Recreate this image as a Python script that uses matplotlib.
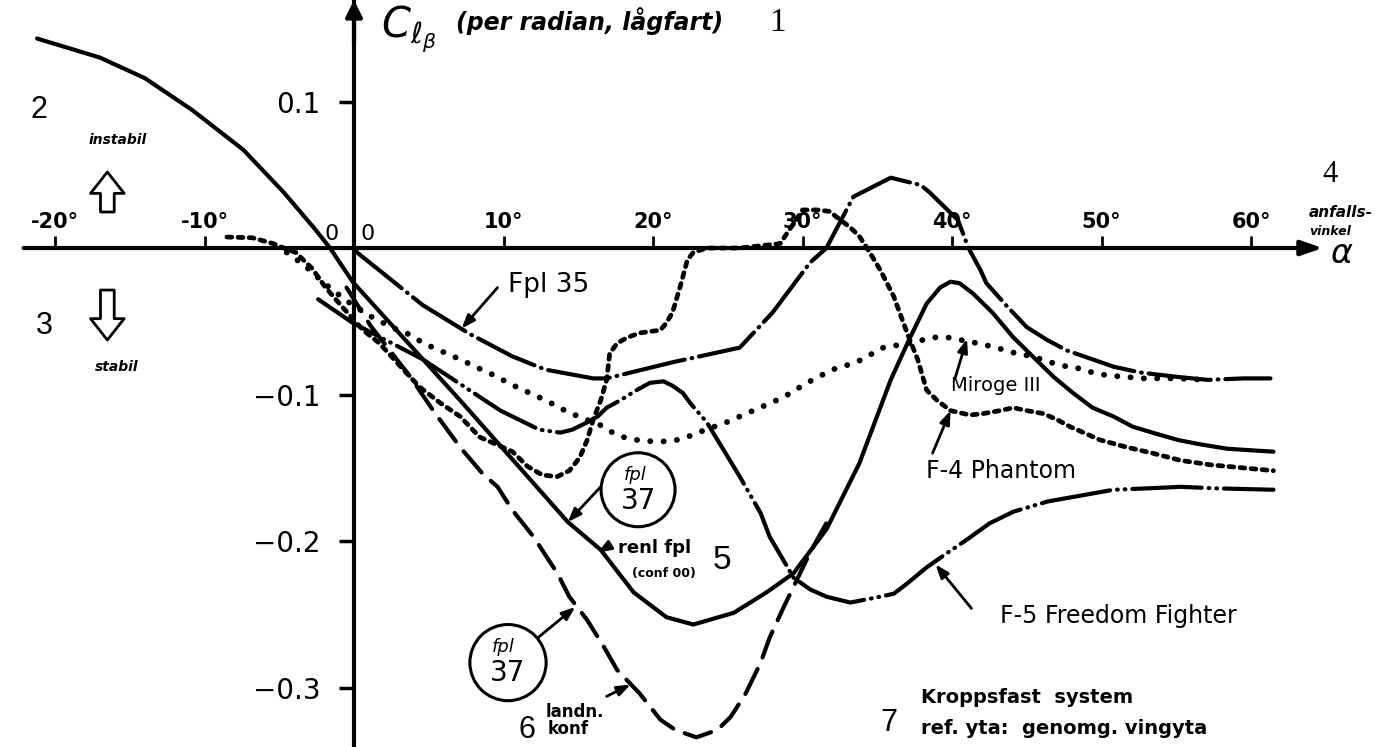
import matplotlib
matplotlib.use("Agg")
import matplotlib.pyplot as plt
from matplotlib.patches import Ellipse

plt.rcParams['lines.scale_dashes'] = False
plt.rcParams['font.family'] = ['DejaVu Sans']

# Cl_beta mot anfallsvinkel, avläst ur diagrammet
# fpl 37 ren konf (heldragen)
a37 = [-21.2, -17.0, -14.0, -10.8, -7.4, -4.7, -2.7, -1.6, -0.1, 7.1, 14.3, 16.5, 18.7, 20.9, 22.7,
       25.4, 27.6, 29.4, 31.6, 33.8, 35.9, 37.2, 38.3, 39.2, 39.9, 40.5, 41.4, 42.7, 44.1, 45.4,
       46.8, 48.1, 49.4, 50.8, 52.1, 53.4, 55.1, 56.6, 58.4, 59.9, 61.5]
c37 = [0.143, 0.130, 0.116, 0.094, 0.067, 0.038, 0.014, 0.0, -0.023, -0.104, -0.187, -0.206, -0.235, -0.252, -0.257,
       -0.249, -0.235, -0.222, -0.192, -0.147, -0.090, -0.061, -0.038, -0.027, -0.023, -0.024, -0.031, -0.044, -0.061, -0.074,
       -0.088, -0.099, -0.109, -0.115, -0.122, -0.126, -0.131, -0.134, -0.137, -0.138, -0.139]

# fpl 37 landningskonf (streckad)
a37l = [-0.5, 1.1, 3.7, 5.3, 7.1, 8.6, 9.6, 10.6, 12.0, 13.6, 14.4, 15.6, 16.7, 17.6, 19.1, 20.5, 21.5,
        22.9, 24.3, 25.2, 26.2, 27.2, 27.8, 28.7, 29.6, 30.5, 31.8]
c37l = [-0.027, -0.053, -0.087, -0.111, -0.136, -0.154, -0.163, -0.179, -0.197, -0.222, -0.238, -0.254, -0.272, -0.288, -0.304, -0.322, -0.329,
        -0.334, -0.329, -0.320, -0.304, -0.283, -0.266, -0.246, -0.227, -0.208, -0.184]

# fpl 35
a35 = [0.0, 0.2, 4.6, 7.8, 10.6, 12.8, 16.0, 16.9, 21.3, 25.8, 28.0, 30.5, 31.6, 33.4, 35.9, 37.9, 38.5,
       40.4, 41.1, 41.9, 42.3, 43.7, 45.0, 46.4, 47.7, 49.4, 50.8, 52.6, 55.1, 57.1, 59.5, 61.3]
c35 = [0.0, -0.003, -0.039, -0.059, -0.074, -0.083, -0.089, -0.089, -0.078, -0.068, -0.044, -0.010, 0.0, 0.035, 0.048, 0.043, 0.038,
       0.019, 0.0, -0.015, -0.024, -0.040, -0.054, -0.063, -0.070, -0.076, -0.081, -0.085, -0.088, -0.090, -0.089, -0.089]

# Mirage III
a_mir = [-4.5, -3.3, -2.0, -0.5, 1.0, 2.5, 3.7, 4.5, 5.3, 6.2, 7.1, 8.1, 9.0, 10.7, 12.4, 13.4, 14.3, 16.5, 17.3,
         18.0, 18.9, 20.0, 20.8, 21.6, 22.3, 23.0, 24.9, 26.7, 28.7, 30.3, 32.0, 33.6, 35.4, 37.1, 38.8, 39.7,
         41.7, 43.0, 43.9, 44.9, 46.0, 47.2, 48.4, 49.4, 50.4, 51.7, 52.7, 55.0, 57.0]
c_mir = [-0.003, -0.012, -0.024, -0.036, -0.046, -0.054, -0.059, -0.064, -0.068, -0.072, -0.076, -0.081, -0.085, -0.094, -0.102, -0.107, -0.112, -0.121, -0.126,
         -0.129, -0.131, -0.132, -0.132, -0.131, -0.129, -0.126, -0.119, -0.111, -0.102, -0.092, -0.083, -0.078, -0.068, -0.065, -0.061, -0.061,
         -0.065, -0.068, -0.071, -0.073, -0.076, -0.080, -0.082, -0.085, -0.087, -0.088, -0.089, -0.089, -0.090]

# F-4 Phantom
a_f4 = [-8.5, -6.8, -5.4, -4.7, -3.9, -3.4, -2.8, -1.9, -0.8, 0.6, 1.7, 3.3, 4.4, 5.8, 7.1, 8.4, 10.6, 11.6, 12.6,
        13.6, 14.4, 15.1, 15.6, 16.0, 16.5, 16.9, 17.1, 17.6, 18.3, 19.1, 20.5, 20.9, 21.3, 21.8, 22.3, 22.7,
        23.6, 25.8, 28.5, 30.0, 31.0, 31.8, 32.3, 33.2, 33.8, 34.5, 35.2, 36.1, 37.0, 37.7, 38.3, 39.0, 39.9,
        41.2, 42.1, 43.2, 44.1, 45.0, 46.1, 47.0, 47.9, 48.8, 49.9, 51.7, 53.4, 55.3, 57.3, 61.5]
c_f4 = [0.0075, 0.007, 0.003, 0.0, -0.003, -0.008, -0.014, -0.027, -0.040, -0.056, -0.065, -0.083, -0.095, -0.106, -0.115, -0.129, -0.139, -0.149, -0.155,
        -0.156, -0.152, -0.143, -0.131, -0.117, -0.104, -0.090, -0.072, -0.065, -0.061, -0.058, -0.056, -0.051, -0.044, -0.027, -0.008, -0.003,
        0.0, 0.0, 0.003, 0.026, 0.026, 0.025, 0.021, 0.014, 0.008, -0.003, -0.015, -0.033, -0.058, -0.076, -0.097, -0.104, -0.111,
        -0.114, -0.113, -0.111, -0.109, -0.111, -0.113, -0.117, -0.122, -0.126, -0.131, -0.136, -0.140, -0.145, -0.148, -0.152]

# F-5 Freedom Fighter
a_f5 = [-2.4, -0.1, 4.6, 9.8, 12.4, 13.8, 14.6, 15.6, 16.3, 16.9, 17.8, 18.9, 19.8, 20.7, 21.3, 22.0, 22.5,
        23.6, 25.8, 27.2, 27.8, 29.4, 30.5, 31.6, 33.2, 35.2, 36.1, 37.0, 38.3, 39.7, 41.0, 42.5, 44.1,
        46.4, 48.6, 50.8, 53.2, 55.3, 57.5, 61.5]
c_f5 = [-0.035, -0.051, -0.076, -0.111, -0.124, -0.126, -0.124, -0.119, -0.115, -0.109, -0.104, -0.097, -0.092, -0.091, -0.094, -0.099, -0.106,
        -0.119, -0.156, -0.181, -0.197, -0.225, -0.233, -0.238, -0.242, -0.238, -0.236, -0.229, -0.218, -0.208, -0.199, -0.188, -0.180,
        -0.173, -0.169, -0.165, -0.164, -0.163, -0.164, -0.165]

xticks = [-20, -10, 10, 20, 30, 40, 50, 60]
xtick_labels = ['-20°', '-10°', '10°', '20°', '30°', '40°', '50°', '60°']
yticks = [0.1, -0.1, -0.2, -0.3]
ytick_labels = ['0.1', '−0.1', '−0.2', '−0.3']

fig = plt.figure(figsize=(13.92, 7.47), dpi=100)
ax = fig.add_axes([0, 0, 1, 1])
ax.set_xlim(-23.68, 69.43)
ax.set_ylim(-0.3406, 0.1693)

# axlar
for s in ['top', 'right', 'bottom']:
    ax.spines[s].set_visible(False)
ax.spines['left'].set_position(('data', 0))
ax.spines['left'].set_linewidth(3)
ax.spines['bottom'].set_position(('data', 0))
ax.annotate('', xy=(64.8, 0), xytext=(-22.1, 0),
            arrowprops=dict(arrowstyle='-|>,head_length=1.3,head_width=0.45', lw=3, color='k', shrinkA=0, shrinkB=0))
ax.annotate('', xy=(0, 0.1693), xytext=(0, 0.14),
            arrowprops=dict(arrowstyle='-|>,head_length=1.0,head_width=0.5', lw=3, color='k', shrinkA=0, shrinkB=0))

ax.set_xticks(xticks)
ax.tick_params(axis='x', direction='in', length=9, width=2, labelbottom=False)
ax.set_yticks(yticks)
ax.set_yticklabels(ytick_labels)
ax.tick_params(axis='y', direction='out', length=11, width=2.5, pad=13, labelsize=20)

for t, lab in zip(xticks, xtick_labels):
    ax.text(t, 0.018, lab, ha='center', va='center', fontsize=15, fontweight='bold')
ax.text(-1.5, 0.0095, '0', ha='center', va='center', fontsize=16)
ax.text(0.9, 0.0095, '0', ha='center', va='center', fontsize=16)

lw = 3
ax.plot(a37, c37, color='k', lw=lw, solid_capstyle='round')
ax.plot(a37l, c37l, color='k', lw=lw, dashes=(20, 9), dash_capstyle='round')
ax.plot(a35, c35, color='k', lw=lw, dashes=(45, 5, 0.5, 5), dash_capstyle='round')
ax.plot(a_mir, c_mir, color='k', lw=4.2, dashes=(0.1, 9.5), dash_capstyle='round')
ax.plot(a_f4, c_f4, color='k', lw=3.4, dashes=(3.5, 4.5), dash_capstyle='round')
ax.plot(a_f5, c_f5, color='k', lw=lw, dashes=(50, 5, 0.5, 5, 0.5, 5), dash_capstyle='round')

# rubrik på y-axeln
ax.text(1.8, 0.149, r'$C_{\ell_\beta}$', fontsize=30, ha='left', va='center')
ax.text(6.8, 0.155, '(per radian, lågfart)', fontsize=17, fontstyle='italic', fontweight='bold',
        ha='left', va='center')
ax.text(28.3, 0.154, '1', fontsize=24, family='Liberation Serif', ha='center', va='center')

# instabil / stabil
ax.text(-21.1, 0.094, '2', fontsize=22, family='Liberation Sans', ha='center', va='center')
ax.text(-15.8, 0.074, 'instabil', fontsize=10, fontstyle='italic', fontweight='bold', ha='center', va='center')
ax.annotate('', xy=(-16.5, 0.0519), xytext=(-16.5, 0.0246),
            arrowprops=dict(arrowstyle='simple,head_length=0.7,head_width=1.1,tail_width=0.45',
                            fc='white', ec='k', lw=2, mutation_scale=22, shrinkA=0, shrinkB=0))
ax.text(-20.7, -0.053, '3', fontsize=22, family='Liberation Sans', ha='center', va='center')
ax.text(-15.9, -0.081, 'stabil', fontsize=10, fontstyle='italic', fontweight='bold', ha='center', va='center')
ax.annotate('', xy=(-16.5, -0.0628), xytext=(-16.5, -0.0287),
            arrowprops=dict(arrowstyle='simple,head_length=0.7,head_width=1.1,tail_width=0.45',
                            fc='white', ec='k', lw=2, mutation_scale=22, shrinkA=0, shrinkB=0))

# x-axelns rubrik
ax.text(65.3, 0.050, '4', fontsize=22, family='Liberation Serif', ha='center', va='center')
ax.text(66.0, 0.024, 'anfalls-', fontsize=11, fontstyle='italic', fontweight='bold', ha='center', va='center')
ax.text(65.3, 0.011, 'vinkel', fontsize=9, fontstyle='italic', fontweight='bold', ha='center', va='center')
ax.text(66.1, -0.004, r'$\alpha$', fontsize=24, ha='center', va='center')

arrow = dict(arrowstyle='-|>,head_length=0.8,head_width=0.3', lw=2, color='k', shrinkA=0, shrinkB=0)

ax.text(13.0, -0.025, 'Fpl 35', fontsize=19, ha='center', va='center')
ax.annotate('', xy=(7.2, -0.055), xytext=(9.6, -0.027), arrowprops=arrow)

ax.text(42.9, -0.094, 'Miroge III', fontsize=14, ha='center', va='center')
ax.annotate('', xy=(41.0, -0.062), xytext=(40.2, -0.089), arrowprops=arrow)

ax.text(43.3, -0.152, 'F-4 Phantom', fontsize=17, ha='center', va='center')
ax.annotate('', xy=(39.9, -0.111), xytext=(38.7, -0.140), arrowprops=arrow)

ax.text(51.1, -0.251, 'F-5 Freedom Fighter', fontsize=17, ha='center', va='center')
ax.annotate('', xy=(38.9, -0.216), xytext=(41.3, -0.246), arrowprops=arrow)

# fpl 37 i ringar
ax.add_patch(Ellipse((19.0, -0.165), 4.95, 0.0505, fill=False, lw=2.2, color='k'))
ax.text(18.8, -0.155, 'fpl', fontsize=13, fontstyle='italic', ha='center', va='center')
ax.text(19.0, -0.173, '37', fontsize=20, ha='center', va='center')
ax.annotate('', xy=(14.3, -0.187), xytext=(16.5, -0.163), arrowprops=arrow)

ax.text(20.1, -0.205, 'renl fpl', fontsize=13, fontweight='bold', ha='center', va='center')
ax.text(20.7, -0.222, '(conf 00)', fontsize=9, fontweight='bold', ha='center', va='center')
ax.text(24.6, -0.213, '5', fontsize=24, family='Liberation Sans', ha='center', va='center')
ax.annotate('', xy=(16.3, -0.208), xytext=(17.1, -0.203), arrowprops=arrow)

ax.add_patch(Ellipse((10.3, -0.283), 5.1, 0.052, fill=False, lw=2.2, color='k'))
ax.text(10.0, -0.272, 'fpl', fontsize=13, fontstyle='italic', ha='center', va='center')
ax.text(10.3, -0.290, '37', fontsize=20, ha='center', va='center')
ax.annotate('', xy=(14.8, -0.245), xytext=(12.3, -0.266), arrowprops=arrow)

ax.text(11.6, -0.329, '6', fontsize=22, family='Liberation Sans', ha='center', va='center')
ax.text(14.8, -0.317, 'landn.', fontsize=12, fontweight='bold', ha='center', va='center')
ax.text(14.3, -0.328, 'konf', fontsize=12, fontweight='bold', ha='center', va='center')
ax.annotate('', xy=(18.5, -0.298), xytext=(16.9, -0.306), arrowprops=arrow)

# referenssystem
ax.text(35.8, -0.324, '7', fontsize=22, family='Liberation Sans', ha='center', va='center')
ax.text(37.9, -0.307, 'Kroppsfast  system', fontsize=14, fontweight='bold', ha='left', va='center')
ax.text(37.9, -0.328, 'ref. yta:  genomg. vingyta', fontsize=14, fontweight='bold', ha='left', va='center')

fig.savefig('out.png', dpi=100)
